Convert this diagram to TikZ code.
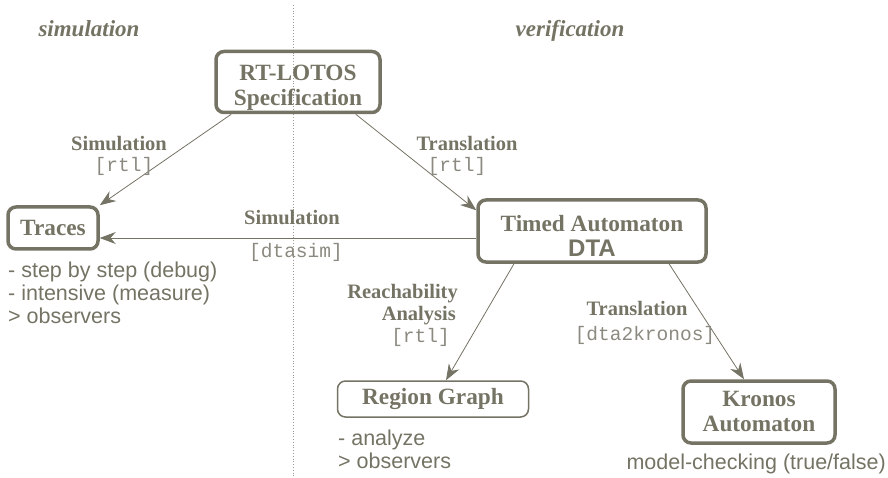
\documentclass[tikz,border=0pt]{standalone}
\usepackage{fontspec}
\setmainfont{Liberation Serif}
\setsansfont{Liberation Sans}
\setmonofont{Liberation Mono}
\usetikzlibrary{arrows.meta}
\definecolor{olivegray}{RGB}{117,115,100}
\definecolor{codegray}{RGB}{140,138,128}

\tikzset{
  bigbox/.style={draw=olivegray,line width=3.5pt,rounded corners=8pt,text=olivegray,
    align=center,inner sep=0pt,font=\fontsize{23.3}{25}\selectfont\bfseries},
  smallbox/.style={bigbox,line width=1.5pt},
  flow/.style={draw=olivegray,line width=0.8pt,-{Stealth[length=16pt,width=12pt]}},
  toollbl/.style={text=olivegray,inner sep=0pt,font=\fontsize{20.5}{22}\selectfont\bfseries},
  toolcmd/.style={text=codegray,inner sep=0pt,font=\fontsize{19.5}{22}\selectfont\ttfamily},
  remark/.style={text=olivegray,inner sep=0pt,align=left,font=\fontsize{21.5}{23}\selectfont\sffamily},
  side/.style={text=olivegray,inner sep=0pt,font=\fontsize{23}{25}\selectfont\bfseries\itshape},
}

\begin{document}
\begin{tikzpicture}[x=1pt,y=-1pt]
  \useasboundingbox (0,0) rectangle (888,478);

  %the two sides
  \coordinate (top) at (293,5);
  \coordinate (bot) at (293,478);
  \draw[dotted,line width=0.8pt,color=olivegray!70] (top) -- (bot);
  \node[side,anchor=base] (simside) at (89,37) {simulation};
  \node[side,anchor=base] (verside) at (570,37) {verification};

  %models
  \node[bigbox,minimum width=164,minimum height=61] (rt) at (298,82)
    {\rule{0pt}{27pt}RT-LOTOS\\Specification};
  \node[bigbox,minimum width=90,minimum height=42] (tr) at (53,228) {Traces};
  \node[bigbox,minimum width=228,minimum height=62] (ta) at (592,231)
    {\rule{0pt}{27pt}Timed Automaton\\{\sffamily\fontsize{24}{25}\selectfont DTA}};
  \node[smallbox,minimum width=191,minimum height=36] (rg) at (433,399) {Region Graph};
  \node[bigbox,minimum width=152,minimum height=62] (kr) at (759,412) {Kronos\\Automaton};

  %tools
  \draw[flow] ([xshift=17pt]rt.south west) -- (tr.north east);
  \draw[flow] ([xshift=-26pt]rt.south east) -- ([yshift=-12pt]ta.north west);
  \draw[flow] ([yshift=-7pt]ta.west) -- ([yshift=-7pt]ta.west -| tr.east);
  \draw[flow] ([xshift=-78pt]ta.south) -- ([xshift=13pt]rg.north);
  \draw[flow] ([xshift=77pt]ta.south) -- ([xshift=-15pt]kr.north);

  \node[toollbl,anchor=base] (simA) at (119,151) {Simulation};
  \node[toolcmd,anchor=base] (rtlA) at (124,172) {[rtl]};
  \node[toollbl,anchor=base] (trA) at (467,151) {Translation};
  \node[toolcmd,anchor=base] (rtlB) at (457,172) {[rtl]};
  \node[toollbl,anchor=base] (simB) at (292,225) {Simulation};
  \node[toolcmd,anchor=base] (dtasim) at (296,258) {[dtasim]};
  \node[toollbl,anchor=base east] (reach) at (458,298) {Reachability};
  \node[toollbl,anchor=base east] (anal) at (456,320) {Analysis};
  \node[toolcmd,anchor=base east] (rtlC) at (450,342) {[rtl]};
  \node[toollbl,anchor=base] (trB) at (637,315) {Translation};
  \node[toolcmd,anchor=base] (kron) at (645,340) {[dta2kronos]};

  %what each model gives
  \node[remark,anchor=north west] (trnote) at (8,262)
    {- step by step (debug)\\- intensive (measure)\\> observers};
  \node[remark,anchor=north west] (rgnote) at (338,430) {- analyze\\> observers};
  \node[remark,anchor=base east] (krnote) at (886,469) {model-checking (true/false)};
\end{tikzpicture}
\end{document}
